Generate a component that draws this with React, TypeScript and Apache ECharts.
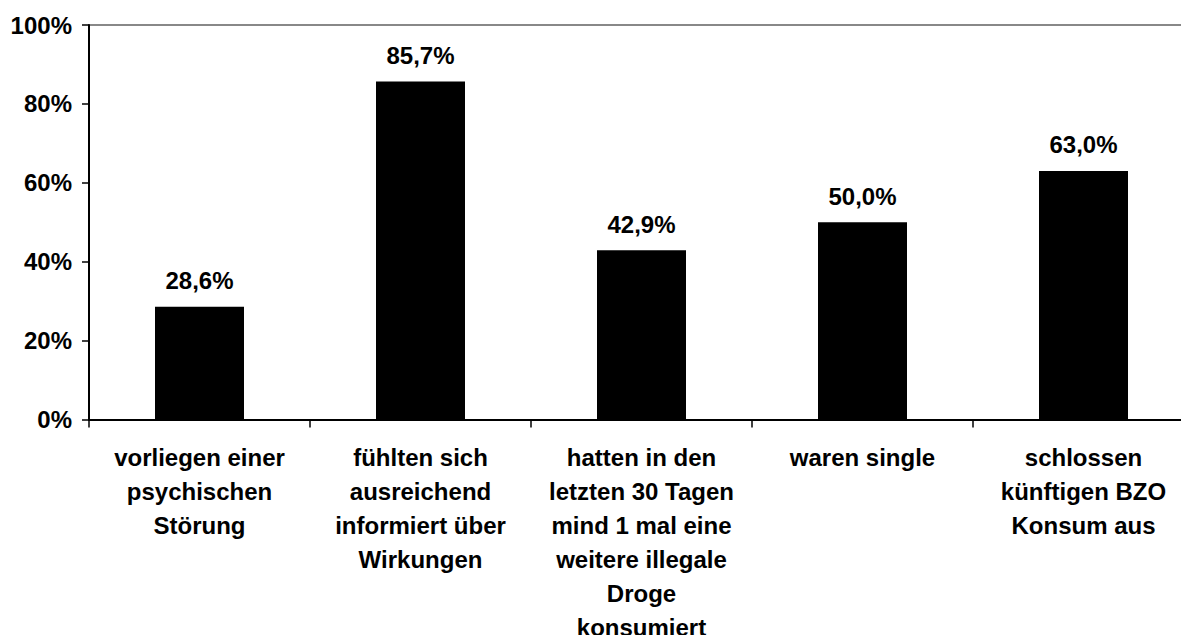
import React, { useEffect, useRef } from "react";
import * as echarts from "echarts";

const categories = [
  "vorliegen einer\npsychischen\nStörung",
  "fühlten sich\nausreichend\ninformiert über\nWirkungen",
  "hatten in den\nletzten 30 Tagen\nmind 1 mal eine\nweitere illegale\nDroge\nkonsumiert",
  "waren single",
  "schlossen\nkünftigen BZO\nKonsum aus",
];
const values = [28.6, 85.7, 42.9, 50.0, 63.0];
const yTicks = { min: 0, max: 100, interval: 20 };

const FONT = "'Liberation Sans', Arial, sans-serif";

export default function App() {
  const ref = useRef<HTMLDivElement>(null);
  useEffect(() => {
    if (!ref.current) return;
    const chart = echarts.init(ref.current, undefined, { renderer: "svg" });
    chart.setOption({
      animation: false,
      backgroundColor: "#ffffff",
      grid: { left: 89, right: 6, top: 25, bottom: 215.5, containLabel: false, outerBoundsMode: "none" },
      xAxis: {
        type: "category",
        data: categories,
        axisLine: { show: true, lineStyle: { color: "#000", width: 2 } },
        axisTick: { show: true, length: 8, lineStyle: { color: "#000", width: 1.5 } },
        axisLabel: {
          interval: 0,
          margin: 21,
          color: "#000",
          fontFamily: FONT,
          fontWeight: "bold",
          fontSize: 24,
          lineHeight: 34,
          align: "center",
        },
      },
      yAxis: {
        type: "value",
        min: yTicks.min,
        max: yTicks.max,
        interval: yTicks.interval,
        axisLine: { show: true, lineStyle: { color: "#000", width: 2 } },
        axisTick: { show: true, length: 7, lineStyle: { color: "#000", width: 1.5 } },
        axisLabel: {
          formatter: "{value}%",
          margin: 17,
          color: "#000",
          fontFamily: FONT,
          fontWeight: "bold",
          fontSize: 24,
        },
        splitLine: {
          show: true,
          lineStyle: {
            color: ["transparent", "transparent", "transparent", "transparent", "transparent", "#888888"],
            width: 2,
          },
        },
      },
      series: [
        {
          type: "bar",
          data: values,
          barWidth: 89,
          itemStyle: { color: "#000" },
          label: {
            show: true,
            position: "top",
            distance: 14,
            color: "#000",
            fontFamily: FONT,
            fontWeight: "bold",
            fontSize: 24,
            formatter: (p: any) => p.value.toFixed(1).replace(".", ",") + "%",
          },
        },
      ],
    });
    return () => chart.dispose();
  }, []);
  return (
    <div style={{ position: "absolute", left: 0, top: 0, width: 1181, height: 635, overflow: "hidden", background: "#fff" }}>
      <div ref={ref} style={{ width: 1200, height: 635 }} />
    </div>
  );
}
